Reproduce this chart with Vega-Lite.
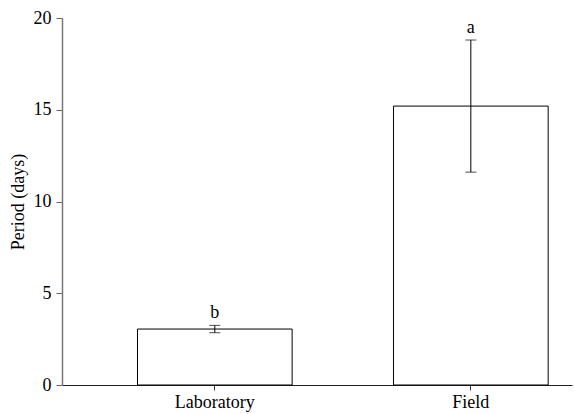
{
  "$schema": "https://vega.github.io/schema/vega-lite/v6.json",
  "autosize": {"type": "none"},
  "padding": {"left": 62, "top": 18, "right": 2, "bottom": 29},
  "width": 510,
  "height": 367,
  "background": "white",
  "config": {
    "view": {"stroke": null},
    "font": "Liberation Serif",
    "axis": {"labelFont": "Liberation Serif", "titleFont": "Liberation Serif", "labelColor": "black", "titleColor": "black", "grid": false},
    "text": {"font": "Liberation Serif"}
  },
  "data": {
    "values": [
      {"site": "Laboratory", "period": 3.05, "lower": 2.85, "upper": 3.25, "sig": "b"},
      {"site": "Field", "period": 15.2, "lower": 11.6, "upper": 18.8, "sig": "a"}
    ]
  },
  "encoding": {
    "x": {
      "field": "site", "type": "nominal", "sort": ["Laboratory", "Field"],
      "scale": {"paddingInner": 0.396, "paddingOuter": 0.194, "align": 0.76},
      "axis": {"title": null, "labelAngle": 0, "labelFontSize": 18, "tickSize": 5, "tickColor": "#333", "domainColor": "#222", "labelPadding": 3}
    }
  },
  "layer": [
    {
      "mark": {"type": "bar", "fill": "white", "stroke": "black", "strokeWidth": 1},
      "encoding": {
        "y": {
          "field": "period", "type": "quantitative",
          "scale": {"domain": [0, 20], "nice": false},
          "axis": {"title": "Period (days)", "titleFontSize": 18, "titleFontWeight": "normal", "labelFontSize": 18, "values": [0, 5, 10, 15, 20], "tickSize": 6, "tickColor": "#666", "domainColor": "#777", "domainWidth": 1.5, "labelPadding": 5, "titlePadding": 6}
        }
      }
    },
    {
      "mark": {"type": "rule", "color": "black", "strokeWidth": 1},
      "encoding": {
        "y": {"field": "lower", "type": "quantitative"},
        "y2": {"field": "upper"}
      }
    },
    {
      "mark": {"type": "tick", "color": "black", "size": 11, "thickness": 1},
      "encoding": {"y": {"field": "lower", "type": "quantitative"}}
    },
    {
      "mark": {"type": "tick", "color": "black", "size": 11, "thickness": 1},
      "encoding": {"y": {"field": "upper", "type": "quantitative"}}
    },
    {
      "mark": {"type": "text", "fontSize": 18, "baseline": "alphabetic", "dy": -7, "color": "black"},
      "encoding": {
        "y": {"field": "upper", "type": "quantitative"},
        "text": {"field": "sig"}
      }
    }
  ]
}
